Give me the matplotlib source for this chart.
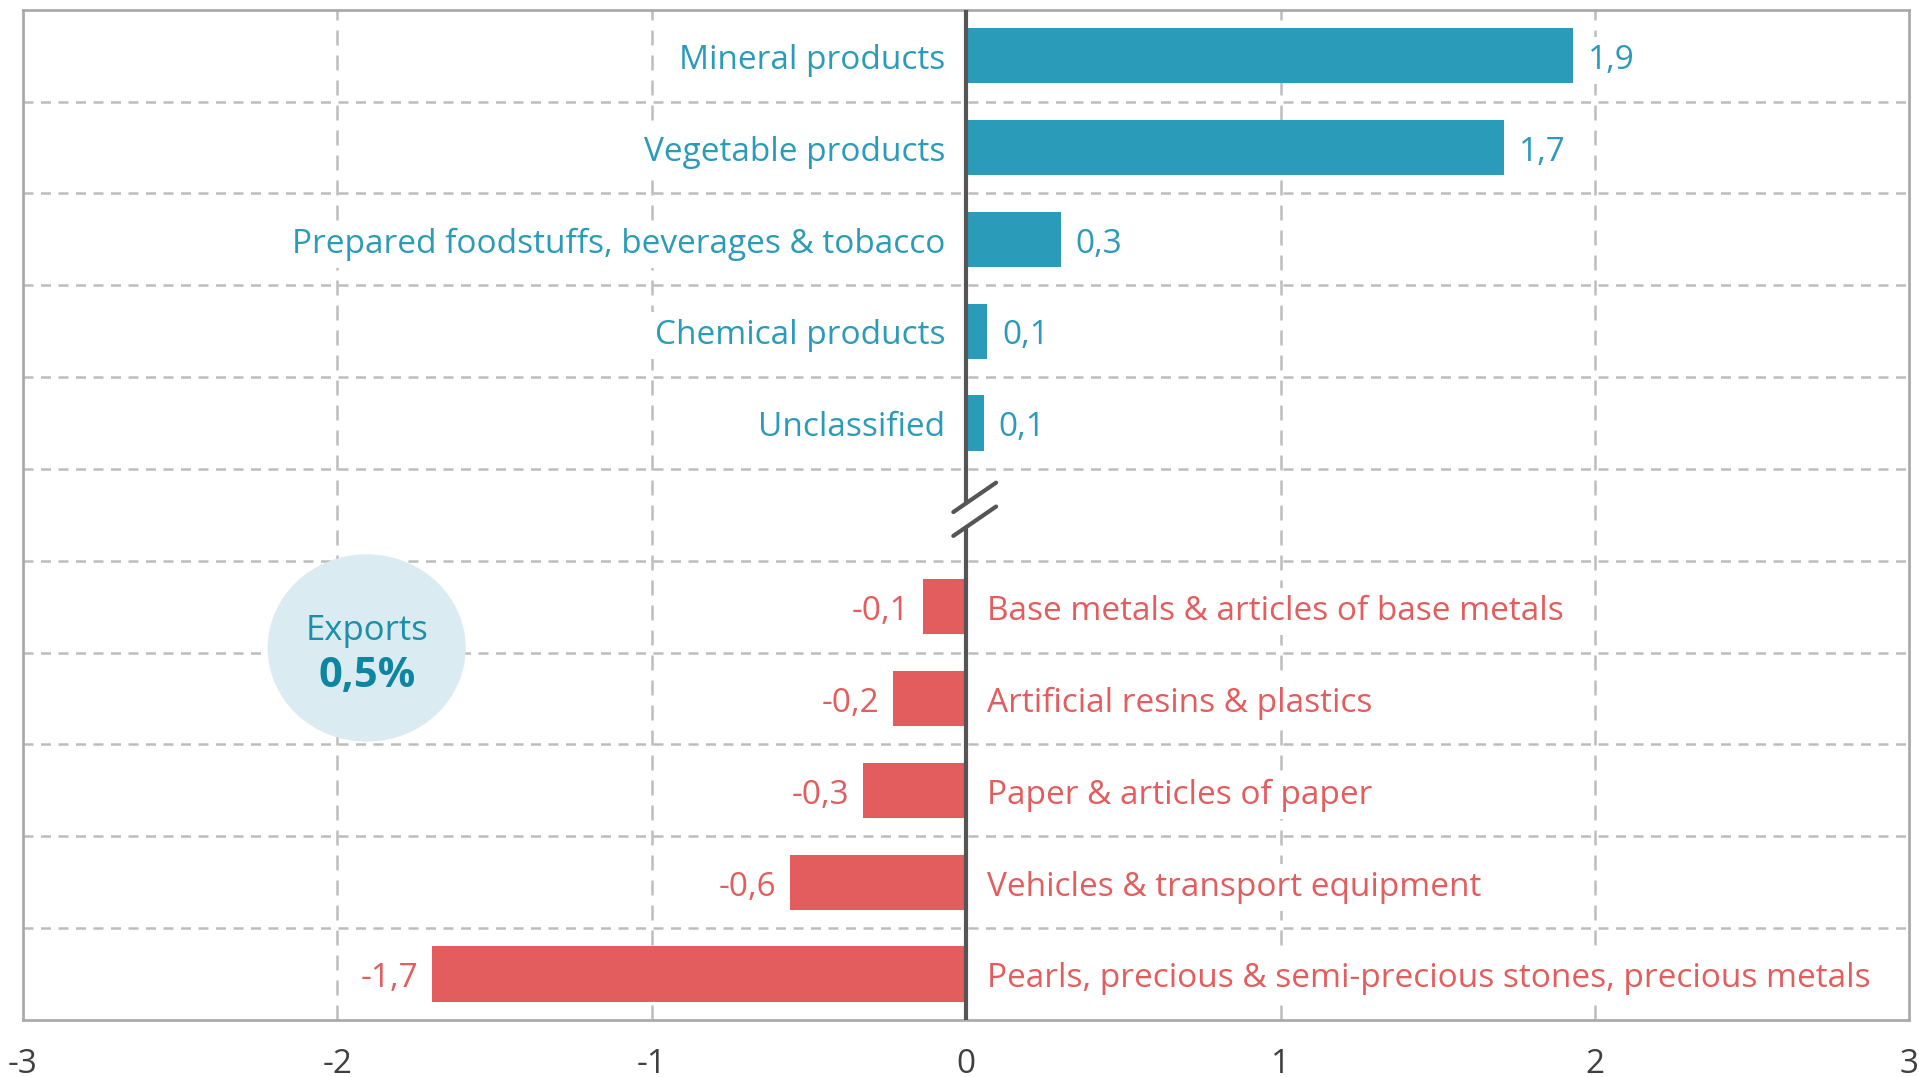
import numpy as np
import matplotlib.pyplot as plt
from matplotlib.patches import Ellipse

plt.rcParams['font.family'] = ['Open Sans', 'DejaVu Sans']

# data
pos_categories = ["Mineral products", "Vegetable products",
                  "Prepared foodstuffs, beverages & tobacco",
                  "Chemical products", "Unclassified"]
pos_values = [1.93, 1.71, 0.30, 0.065, 0.055]

neg_categories = ["Base metals & articles of base metals",
                  "Artificial resins & plastics",
                  "Paper & articles of paper",
                  "Vehicles & transport equipment",
                  "Pearls, precious & semi-precious stones, precious metals"]
neg_values = [-0.136, -0.233, -0.327, -0.56, -1.70]

x_ticks = [-3, -2, -1, 0, 1, 2, 3]
total_label = "Exports"
total_value = "0,5%"

TEAL = '#2A9BB8'
RED = '#E35C5E'
GRID = '#BDBDBD'
FS = 24
BOX = dict(facecolor='white', edgecolor='none', pad=5)

def fmt(v):
    return f"{v:.1f}".replace('.', ',')

# rows: 5 positive, a gap row, 5 negative (top to bottom)
y_pos = np.arange(10, 5, -1)
y_neg = np.arange(4, -1, -1)
y_gap = 5

fig = plt.figure(figsize=(19.19, 10.77), dpi=100)
ax = fig.add_axes([0.012, 0.053, 0.983, 0.938])

ax.barh(y_pos, pos_values, height=0.6, color=TEAL, zorder=3)
ax.barh(y_neg, neg_values, height=0.6, color=RED, zorder=3)

for y, v, c in zip(y_pos, pos_values, pos_categories):
    ax.annotate(c, (0, y), xytext=(-15, -3.5), textcoords='offset points',
                ha='right', va='center', color=TEAL, fontsize=FS, bbox=BOX)
    ax.annotate(fmt(v), (v, y), xytext=(11, -3.5), textcoords='offset points',
                ha='left', va='center', color=TEAL, fontsize=FS, bbox=BOX)

for y, v, c in zip(y_neg, neg_values, neg_categories):
    ax.annotate(c, (0, y), xytext=(15, -3.5), textcoords='offset points',
                ha='left', va='center', color=RED, fontsize=FS, bbox=BOX)
    ax.annotate(fmt(v), (v, y), xytext=(-10, -3.5), textcoords='offset points',
                ha='right', va='center', color=RED, fontsize=FS, bbox=BOX)

# zero line with break symbol
g = 0.13
ax.plot([0, 0], [10.5, y_gap + g], color='#555555', lw=3, zorder=4,
        solid_capstyle='butt')
ax.plot([0, 0], [-0.5, y_gap - g], color='#555555', lw=3, zorder=4,
        solid_capstyle='butt')
for yc in (y_gap + g, y_gap - g):
    ax.plot([-0.041, 0.095], [yc - 0.10, yc + 0.22], color='#555555',
            lw=3, zorder=4, solid_capstyle='round')

# total bubble
ax.add_patch(Ellipse((-1.907, 3.55), 0.63, 2.04, facecolor='#DAECF1',
                     edgecolor='none', zorder=5))
ax.text(-1.907, 3.74, total_label, ha='center', va='center',
        fontsize=FS + 1, color='#1E8FAA', zorder=6)
ax.text(-1.907, 3.24, total_value, ha='center', va='center',
        fontsize=FS + 6, fontweight='bold', color='#0E86A2', zorder=6)

ax.set_xlim(-3, 3)
ax.set_ylim(-0.5, 10.5)
ax.set_xticks(x_ticks)
ax.set_xticklabels([str(t).replace('\u2212', '-') for t in x_ticks],
                   fontsize=FS, color='#404040')
ax.set_yticks([])
ax.tick_params(axis='x', length=0, pad=20)

for x in x_ticks[1:-1]:
    if x != 0:
        ax.axvline(x, color=GRID, lw=1.8, ls=(0, (6, 4)), zorder=1)
for yb in np.arange(0.5, 10, 1):
    ax.axhline(yb, color=GRID, lw=1.8, ls=(0, (4, 3)), zorder=1)

for s in ax.spines.values():
    s.set_color('#ABABAB')
    s.set_linewidth(2)

fig.savefig('out.png', dpi=100)
